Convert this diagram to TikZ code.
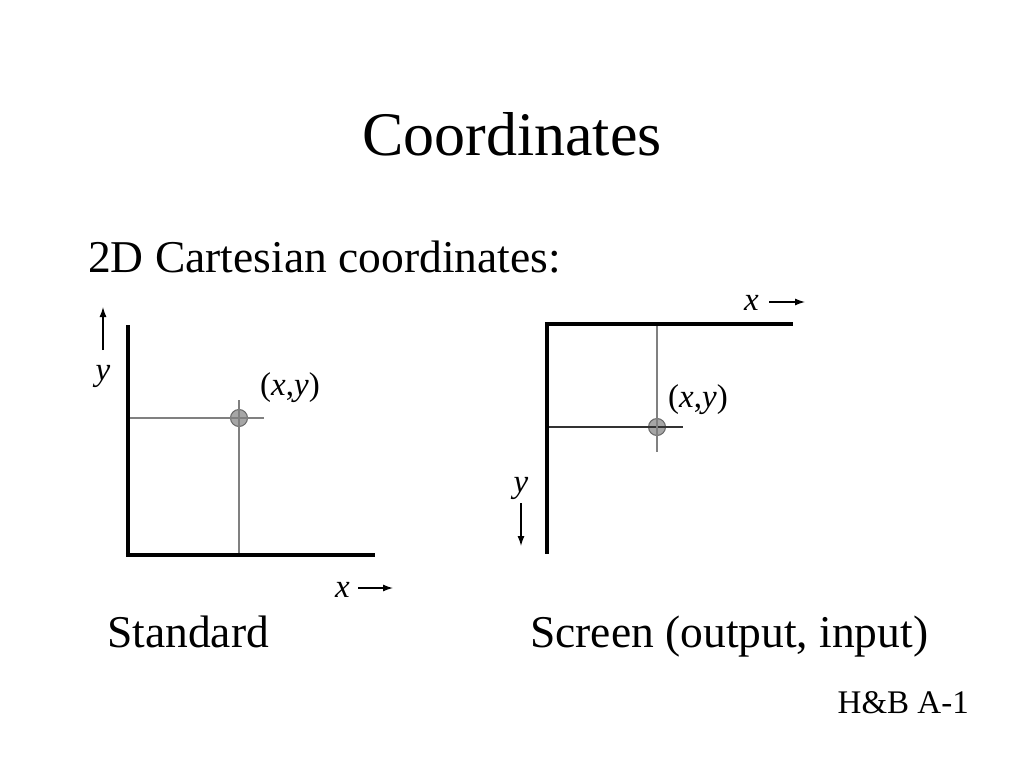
\documentclass[tikz,border=0pt]{standalone}
\usepackage{fontspec}
\setmainfont{Liberation Serif}
\usetikzlibrary{arrows.meta}
\begin{document}
\begin{tikzpicture}[x=1pt,y=-1pt,
  axis/.style={line width=4.2pt,line cap=butt},
  guide/.style={line width=1.2pt,draw=black!50},
  guidedark/.style={line width=1.1pt,draw=black!80},
  pt/.style={circle,minimum size=17pt,inner sep=0pt,fill=black!35,draw=black!60,line width=1pt},
  arr/.style={line width=1.3pt,-{Latex[length=10pt,width=7pt]}},
  title/.style={font=\fontsize{62}{70}\selectfont,inner sep=0pt},
  body/.style={font=\fontsize{45.5}{52}\selectfont,inner sep=0pt},
  lab/.style={font=\fontsize{33}{38}\selectfont,inner sep=0pt}]
\useasboundingbox (0,0) rectangle (1024,768);
\fill[white] (0,0) rectangle (1024,768);
% texts
\node[title,anchor=base] (ttl) at (512,155) {Coordinates};
\node[body,anchor=base west] (sub) at (88,272) {2D Cartesian coordinates:};
\node[body,anchor=base west] (std) at (107,647) {Standard};
\node[body,anchor=base west] (scr) at (530,647) {Screen (output, input)};
\node[lab,anchor=base east] (ref) at (969,713) {H\&B A-1};
% ---------- standard ----------
\coordinate (LO) at (128,555);
\coordinate (LT) at (128,325);
\coordinate (LR) at (375,555);
\coordinate (LHx) at (264,418);
\coordinate (LHo) at (128,418);
\coordinate (LVt) at (239,400);
\coordinate (LVb) at (239,555);
\draw[guide] (LHo) -- (LHx);
\draw[guide] (LVt) -- (LVb);
\node[pt] (LP) at (239,418) {};
\draw[guide] (LP.west) -- (LP.east);
\draw[guide] (LP.north) -- (LP.south);
\draw[axis] (LT) -- ([yshift=2.1pt]LO) ;
\draw[axis] ([xshift=-2.1pt]LO) -- (LR);
\node[lab,anchor=base west] (Lxy) at (260,395) {(\textit{x},\textit{y})};
\node[lab,anchor=base] (Ly) at (103,380) {\textit{y}};
\coordinate (Lya) at (103,350);
\coordinate (Lyb) at (103,307);
\draw[arr] (Lya) -- (Lyb);
\node[lab,anchor=base west] (Lx) at (335,597) {\textit{x}};
\coordinate (Lxa) at (358,588);
\coordinate (Lxb) at (393,588);
\draw[arr] (Lxa) -- (Lxb);
% ---------- screen ----------
\coordinate (RO) at (547,324);
\coordinate (RB) at (547,554);
\coordinate (RR) at (793,324);
\coordinate (RVt) at (657,324);
\coordinate (RVb) at (657,452);
\coordinate (RHo) at (547,427);
\coordinate (RHx) at (683,427);
\draw[guide] (RVt) -- (RVb);
\draw[guidedark] (RHo) -- (RHx);
\node[pt] (RP) at (657,427) {};
\draw[guidedark] (RP.west) -- (RP.east);
\draw[guide] (RP.north) -- (RP.south);
\draw[axis] ([yshift=-2.1pt]RO) -- (RB);
\draw[axis] ([xshift=-2.1pt]RO) -- (RR);
\node[lab,anchor=base west] (Rxy) at (668,407) {(\textit{x},\textit{y})};
\node[lab,anchor=base west] (Rx) at (744,310) {\textit{x}};
\coordinate (Rxa) at (769,302);
\coordinate (Rxb) at (805,302);
\draw[arr] (Rxa) -- (Rxb);
\node[lab,anchor=base] (Ry) at (521,492) {\textit{y}};
\coordinate (Rya) at (521,503);
\coordinate (Ryb) at (521,546);
\draw[arr] (Rya) -- (Ryb);
\end{tikzpicture}
\end{document}
